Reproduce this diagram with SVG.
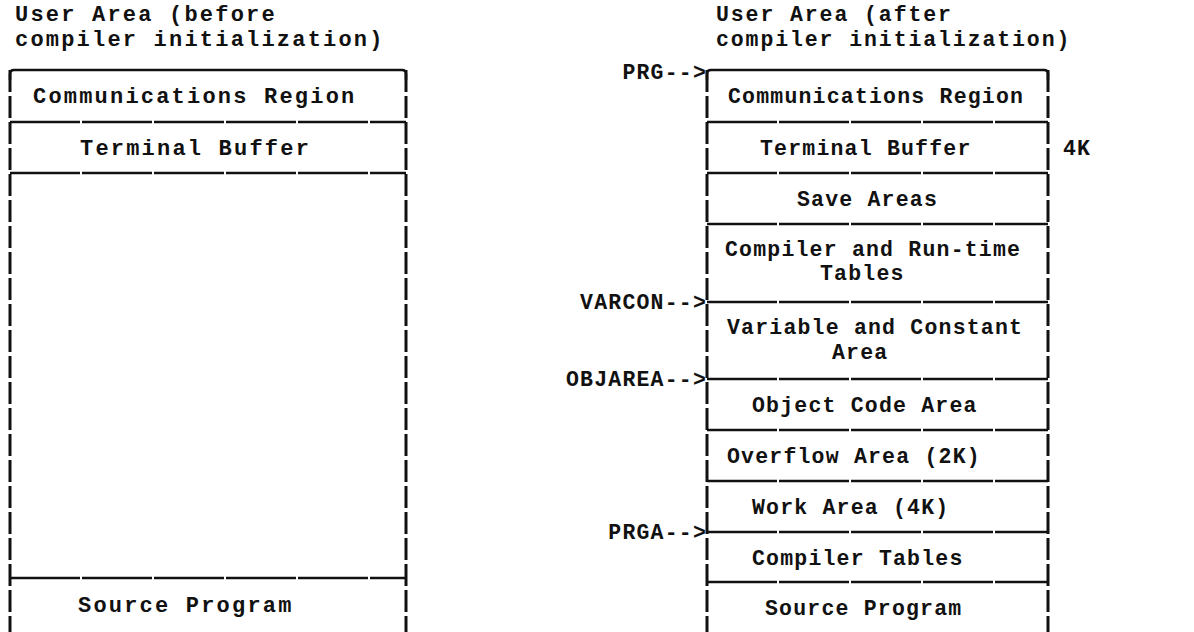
<svg xmlns="http://www.w3.org/2000/svg" width="1194" height="632" viewBox="0 0 1194 632">
<style>
text{font-family:"Liberation Mono","DejaVu Sans Mono",monospace;font-size:22px;letter-spacing:2.2px;font-weight:bold;fill:#111}
.r text{font-size:21.5px;letter-spacing:1.2px}
#title-right text{letter-spacing:1.9px}
.edge{stroke:#111;stroke-width:3;fill:none;stroke-dasharray:22 4}
.div{stroke:#111;stroke-width:2.5;fill:none;stroke-dasharray:70 2}
.top{stroke:#111;stroke-width:2.5;fill:none}
</style>
<rect width="1194" height="632" fill="#fff"/>
<g id="title-left"><text x="15" y="21">User Area (before</text><text x="15" y="46">compiler initialization)</text></g>
<g id="title-right" class="r"><text x="716" y="21">User Area (after</text><text x="716" y="46">compiler initialization)</text></g>

<g id="left-frame">
<path class="top" d="M10 80 V74 Q10 70 14 70 H402 Q406 70 406 74 V80"/>
<path class="edge" d="M10 70 V632 M406 70 V632"/>
<path class="div" d="M10 122 H406 M10 173 H406 M10 578 H406"/>
</g>
<g id="l-comm"><text x="33" y="103">Communications Region</text></g>
<g id="l-term"><text x="80" y="155">Terminal Buffer</text></g>
<g id="l-src"><text x="78" y="612">Source Program</text></g>

<g id="right-frame">
<path class="top" d="M707 80 V74 Q707 70 711 70 H1044 Q1048 70 1048 74 V80"/>
<path class="edge" d="M707 70 V632 M1048 70 V632"/>
<path class="div" d="M707 122 H1048 M707 173 H1048 M707 224 H1048 M707 302 H1048 M707 379 H1048 M707 430 H1048 M707 481 H1048 M707 532 H1048 M707 582 H1048"/>
</g>
<g class="r">
<g id="r-comm"><text x="728" y="103">Communications Region</text></g>
<g id="r-term"><text x="760" y="155">Terminal Buffer</text></g>
<g id="r-4k"><text x="1063" y="155">4K</text></g>
<g id="r-save"><text x="797" y="206">Save Areas</text></g>
<g id="r-ctab"><text x="725" y="256">Compiler and Run-time</text><text x="820" y="280">Tables</text></g>
<g id="r-var"><text x="727" y="334">Variable and Constant</text><text x="832" y="359">Area</text></g>
<g id="r-obj"><text x="752" y="412">Object Code Area</text></g>
<g id="r-ovf"><text x="727" y="463">Overflow Area (2K)</text></g>
<g id="r-work"><text x="752" y="514">Work Area (4K)</text></g>
<g id="r-comp"><text x="752" y="565">Compiler Tables</text></g>
<g id="r-src"><text x="765" y="615">Source Program</text></g>
</g>
<g id="connectors" class="r">
<text x="707" y="79" text-anchor="end">PRG--&gt;</text>
<text x="707" y="309" text-anchor="end">VARCON--&gt;</text>
<text x="707" y="386" text-anchor="end">OBJAREA--&gt;</text>
<text x="707" y="539" text-anchor="end">PRGA--&gt;</text>
</g>
</svg>
